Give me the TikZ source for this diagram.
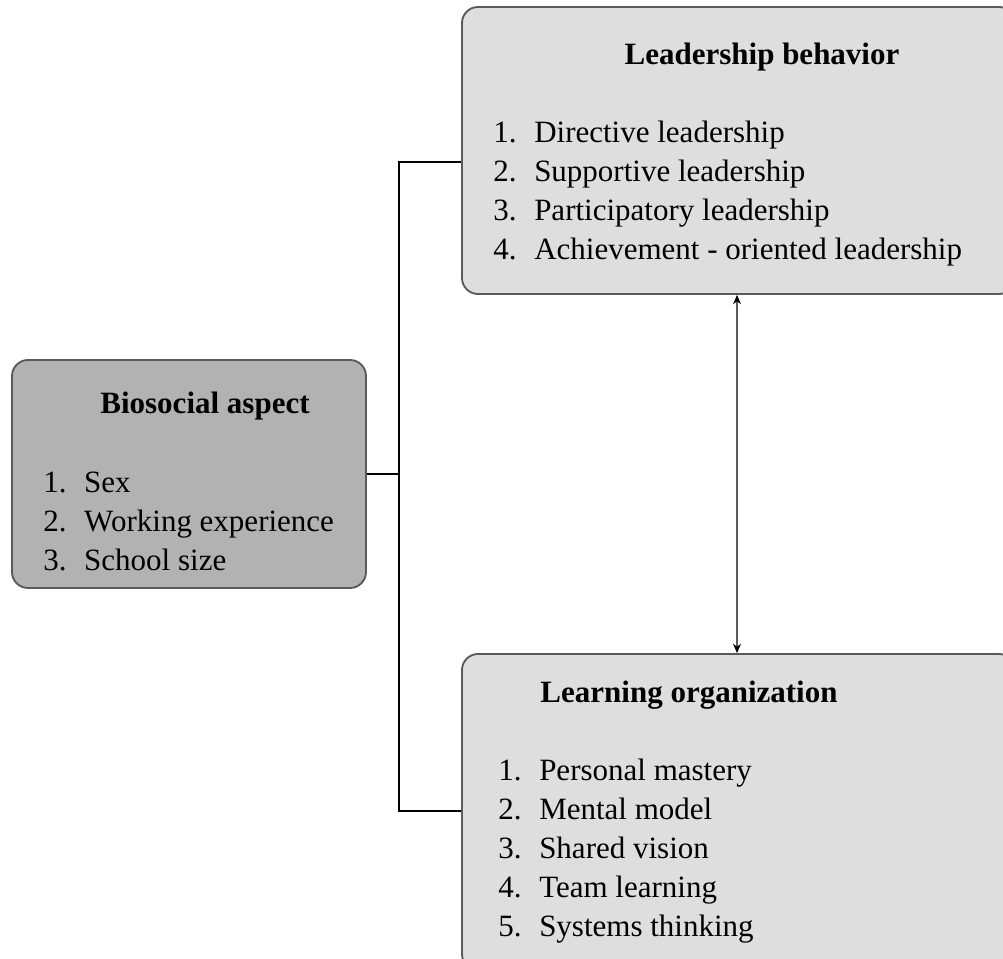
\documentclass[tikz,border=0pt]{standalone}
\usepackage{fontspec}
\setmainfont{Liberation Serif}
\usetikzlibrary{arrows.meta}
\definecolor{boxlight}{HTML}{DEDEDE}
\definecolor{boxdark}{HTML}{B2B2B2}
\definecolor{boxline}{HTML}{5A5A5A}
\newcommand{\li}[2]{\makebox[30.75pt][l]{#1}#2}
\begin{document}
\begin{tikzpicture}[x=0.75pt,y=-0.75pt]
	\tikzset{panel/.style = {draw=boxline,line width=1.4pt,rounded corners=12pt,inner sep=0pt}}
	\tikzset{head/.style = {anchor=base,font=\fontsize{23.25}{28}\selectfont\bfseries}}
	\tikzset{item/.style = {anchor=base west,inner sep=0pt,font=\fontsize{23.25}{28}\selectfont}}
	\tikzset{link/.style = {draw=black,line width=0.9pt}}
	\useasboundingbox (0,0) rectangle (1003,959);
	\clip (0,0) rectangle (1003,959);
	% boxes
	\node[panel,fill=boxlight,minimum width=553*0.75pt,minimum height=287*0.75pt] (lead) at (738.5,150.5) {};
	\node[panel,fill=boxdark,minimum width=354*0.75pt,minimum height=228*0.75pt] (bio) at (189,474) {};
	\node[panel,fill=boxlight,minimum width=553*0.75pt,minimum height=316*0.75pt] (org) at (738.5,812) {};
	% leadership behavior
	\node[head] (leadt) at (762,65) {Leadership behavior};
	\node[item] (lead1) at (493,143) {\li{1.}{Directive leadership}};
	\node[item] (lead2) at (493,182) {\li{2.}{Supportive leadership}};
	\node[item] (lead3) at (493,221) {\li{3.}{Participatory leadership}};
	\node[item] (lead4) at (493,260) {\li{4.}{Achievement - oriented leadership}};
	% biosocial aspect
	\node[head] (biot) at (205,413) {Biosocial aspect};
	\node[item] (bio1) at (43,492) {\li{1.}{Sex}};
	\node[item] (bio2) at (43,531) {\li{2.}{Working experience}};
	\node[item] (bio3) at (43,570) {\li{3.}{School size}};
	% learning organization
	\node[head] (orgt) at (689,702) {Learning organization};
	\node[item] (org1) at (498,780) {\li{1.}{Personal mastery}};
	\node[item] (org2) at (498,819) {\li{2.}{Mental model}};
	\node[item] (org3) at (498,858) {\li{3.}{Shared vision}};
	\node[item] (org4) at (498,897) {\li{4.}{Team learning}};
	\node[item] (org5) at (498,936) {\li{5.}{Systems thinking}};
	% connectors
	\coordinate (jt) at (399,162);
	\coordinate (jb) at (399,811);
	\coordinate (ax) at (737,0);
	\path[link] (bio.east) -- (bio.east -| jt);
	\path[link] (lead.west |- jt) -- (jt) -- (jb) -- (org.west |- jb);
	\path[draw=boxline,line width=0.8pt,{Stealth[length=7pt,width=6pt,black]}-{Stealth[length=7pt,width=6pt,black]}] (lead.south -| ax) -- (org.north -| ax);
\end{tikzpicture}
\end{document}
